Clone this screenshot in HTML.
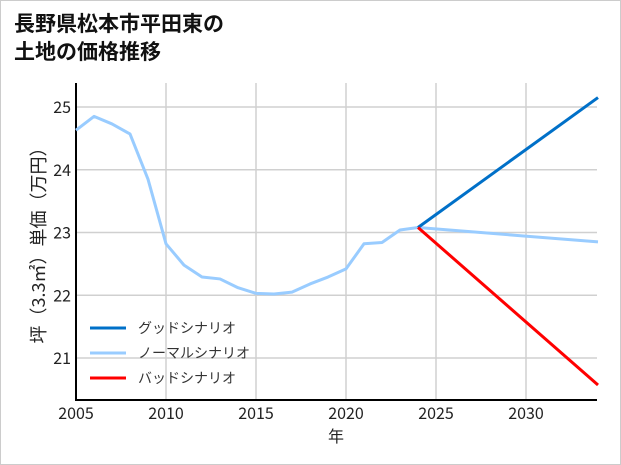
<!DOCTYPE html>
<html><head><meta charset="utf-8"><style>
body{margin:0;background:#fff;}
#wrap{width:619px;height:463px;border:1px solid #ccc;position:relative;overflow:hidden;font-family:"Liberation Sans","Noto Sans CJK JP",sans-serif;}
#title{position:absolute;left:13px;top:8px;font-size:21px;font-weight:bold;line-height:28px;color:#111;font-family:"Noto Sans CJK JP",sans-serif;}
svg{position:absolute;left:0;top:0;}
</style></head><body>
<div id="wrap">
<div id="title">長野県松本市平田東の<br>土地の価格推移</div>
<svg id="chart" width="621" height="465"></svg>
</div>
<script>
const years=[2005,2006,2007,2008,2009,2010,2011,2012,2013,2014,2015,2016,2017,2018,2019,2020,2021,2022,2023,2024];
const history=[24.63,24.85,24.73,24.57,23.85,22.82,22.48,22.29,22.26,22.12,22.03,22.02,22.05,22.18,22.29,22.42,22.82,22.84,23.04,23.08];
const forecastYears=[2024,2034];
const good=[23.08,25.15];
const normal=[23.08,22.85];
const bad=[23.08,20.57];
const xTicks=[2005,2010,2015,2020,2025,2030];
const yTicks=[21,22,23,24,25];
const svg=document.getElementById('chart');
const NS='http://www.w3.org/2000/svg';
const F='Noto Sans CJK JP,sans-serif';
const X=y=>75+(y-2005)*18;
const Y=v=>357-(v-21)*62.75;
function el(t,a){const e=document.createElementNS(NS,t);for(const k in a)e.setAttribute(k,a[k]);svg.appendChild(e);return e;}
xTicks.forEach(t=>{const g=el('line',{x1:X(t),x2:X(t),y1:82,y2:399,stroke:'#d0d0d0','stroke-width':1.5});


const l=el('text',{x:X(t),y:418,'text-anchor':'middle','font-size':16,fill:'#222','font-family':F});l.textContent=t;

});
yTicks.forEach(t=>{const g=el('line',{x1:75,x2:596,y1:Y(t),y2:Y(t),stroke:'#d0d0d0','stroke-width':1.5});


const l=el('text',{x:70,y:Y(t)+6,'text-anchor':'end','font-size':16,fill:'#222','font-family':F});l.textContent=t;

});
const ax=el('path',{d:'M75,82 V399 H596',fill:'none',stroke:'#000','stroke-width':2});


function line(xs,vs,c,name){const p=el('polyline',{points:xs.map((x,i)=>X(x)+','+Y(vs[i])).join(' '),fill:'none',stroke:c,'stroke-width':3,'stroke-linejoin':'round'});

}
line(years,history,'#99ccff','series-history');
line(forecastYears,normal,'#99ccff','series-normal');
line(forecastYears,good,'#0070c8','series-good');
line(forecastYears,bad,'#ff0000','series-bad');
const leg=[['グッドシナリオ','#0070c8'],['ノーマルシナリオ','#99ccff'],['バッドシナリオ','#ff0000']];
leg.forEach((d,i)=>{const y=327+i*25;
const s=el('line',{x1:89,x2:125,y1:y,y2:y,stroke:d[1],'stroke-width':3});


const t=el('text',{x:137,y:y+5,'font-size':14,fill:'#333','font-family':F});t.textContent=d[0];

});
const xt=el('text',{x:335,y:441,'text-anchor':'middle','font-size':16,fill:'#222','font-family':F});xt.textContent='年';


const yt=el('text',{x:0,y:0,'text-anchor':'middle','font-size':18,fill:'#222','font-family':F,transform:'translate(44,240) rotate(-90)'});yt.textContent='坪（3.3㎡）単価（万円）';


</script>
</body></html>
